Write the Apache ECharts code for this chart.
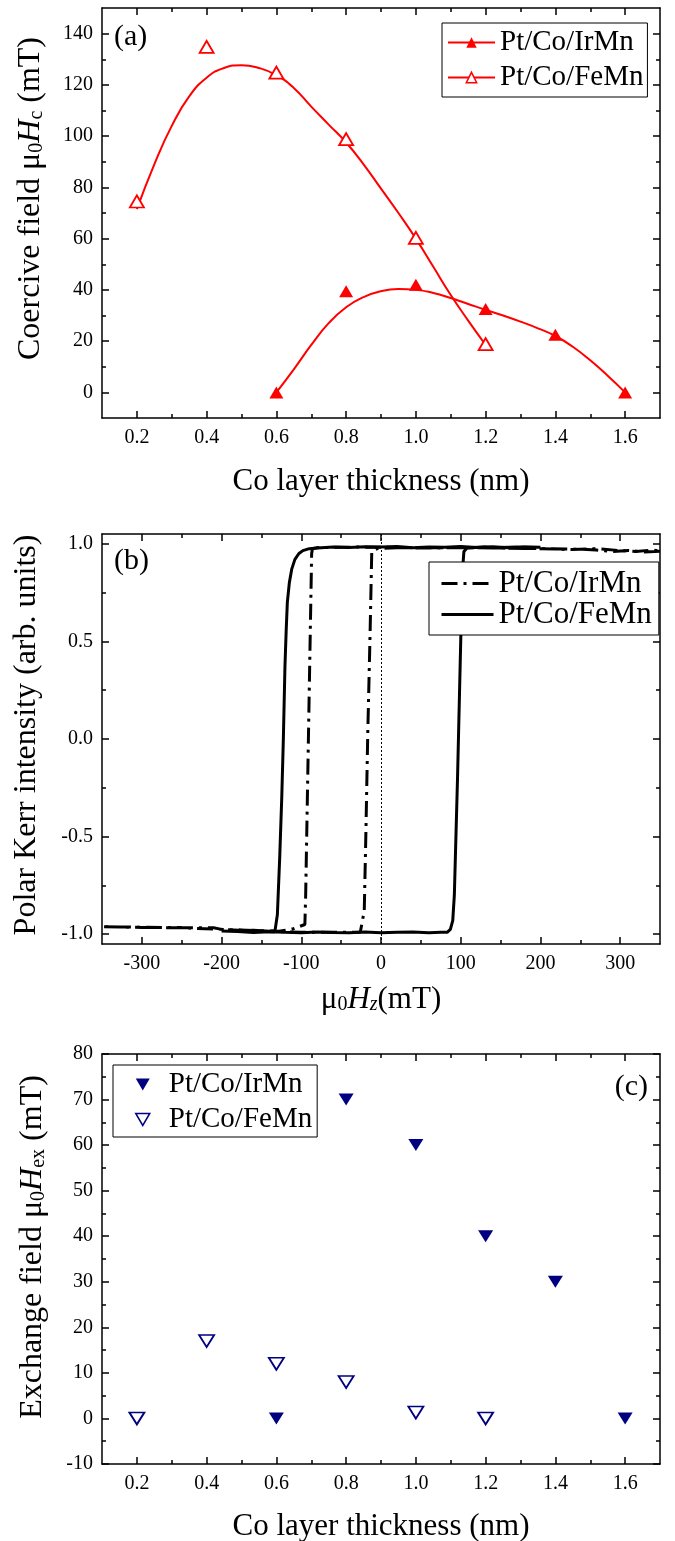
<!DOCTYPE html>
<html><head><meta charset="utf-8">
<script src="https://cdn.jsdelivr.net/npm/echarts@6/dist/echarts.min.js"></script>
<style>html,body{margin:0;padding:0;background:#fff;overflow:hidden}#c{width:675px;height:1541px}</style>
</head><body><div id="c"></div>
<script>
// ---------- Panel (a): coercive field ----------
const thickIrMnA = [0.6, 0.8, 1.0, 1.2, 1.4, 1.6];
const hcIrMn = [0, 39.5, 42, 32.5, 22.5, 0];
const thickFeMnA = [0.2, 0.4, 0.6, 0.8, 1.0, 1.2];
const hcFeMn = [74.5, 134.8, 124.8, 98.8, 60.3, 18.8];
// fitted curves
const fitIrMnX = [0.6, 0.65, 0.7, 0.75, 0.8, 0.85, 0.9, 0.95, 1.0, 1.05, 1.1, 1.15, 1.2, 1.25, 1.3, 1.35, 1.4, 1.45, 1.5, 1.55, 1.6];
const fitIrMnY = [0, 9, 18.5, 27, 33.2, 37.2, 39.5, 40.3, 40, 38.8, 36.8, 34.5, 32.2, 30, 27.6, 25, 22, 17.8, 12.5, 6.5, 0];
const fitFeMnX = [0.2, 0.25, 0.3, 0.35, 0.4, 0.45, 0.5, 0.55, 0.6, 0.65, 0.7, 0.75, 0.8, 0.85, 0.9, 0.95, 1.0, 1.05, 1.1, 1.15, 1.2];
const fitFeMnY = [71.5, 89, 104, 115.5, 122.8, 126.6, 127.7, 126.6, 123.8, 118.8, 111.5, 104.5, 97.5, 89, 79.5, 70, 60, 49, 38, 28, 18.5];

// ---------- Panel (b): polar Kerr loops ----------
const loopFeMnH = [200, 180, 160, 140, 120, 100, 80, 60, 40, 20, 0, -20, -40, -60, -80, -90, -98, -103, -108, -112, -115, -117.5, -119, -120.5, -122.5, -124.5, -127, -130, -133, -140, -160, -180, -200,
  -200, -180, -160, -140, -120, -100, -80, -60, -40, -20, 0, 20, 40, 60, 75, 83, 87, 90, 92, 94, 96, 98, 100, 102, 104, 108, 130, 150, 170, 200];
const loopFeMnM = [0.982, 0.984, 0.979, 0.985, 0.981, 0.986, 0.982, 0.984, 0.98, 0.986, 0.983, 0.985, 0.981, 0.984, 0.978, 0.975, 0.965, 0.95, 0.92, 0.87, 0.8, 0.7, 0.55, 0.37, 0.0, -0.3, -0.6, -0.9, -0.982, -0.985, -0.98, -0.986, -0.983,
  -0.99, -0.986, -0.991, -0.987, -0.99, -0.992, -0.988, -0.991, -0.993, -0.989, -0.992, -0.99, -0.988, -0.992, -0.99, -0.99, -0.975, -0.93, -0.8, -0.5, -0.2, 0.15, 0.5, 0.85, 0.96, 0.978, 0.985, 0.981, 0.984, 0.982];
const loopIrMnH = [350, 330, 310, 290, 270, 250, 200, 150, 100, 50, 0, -30, -60, -80, -86, -87, -88.5, -90, -91.5, -93, -94.5, -95.5, -97, -110, -128, -150, -200, -210, -250, -300, -350,
  -350, -300, -250, -200, -150, -100, -60, -40, -26, -24, -21, -19, -16.6, -13.7, -11.6, -5, 20, 60, 100, 150, 200, 240, 270, 300, 320, 340, 350];
const loopIrMnM = [0.962, 0.958, 0.966, 0.96, 0.968, 0.972, 0.975, 0.978, 0.98, 0.979, 0.982, 0.983, 0.982, 0.98, 0.975, 0.95, 0.6, 0.25, -0.1, -0.45, -0.8, -0.95, -0.958, -0.972, -0.985, -0.982, -0.975, -0.967, -0.966, -0.964, -0.962,
  -0.962, -0.965, -0.967, -0.975, -0.985, -0.99, -0.99, -0.99, -0.99, -0.99, -0.88, -0.49, 0.03, 0.54, 0.96, 0.975, 0.98, 0.978, 0.98, 0.978, 0.975, 0.97, 0.975, 0.965, 0.96, 0.968, 0.962];

// ---------- Panel (c): exchange field ----------
const thickIrMnC = [0.6, 0.8, 1.0, 1.2, 1.4, 1.6];
const hexIrMn = [0, 70, 60, 40, 30, 0];
const thickFeMnC = [0.2, 0.4, 0.6, 0.8, 1.0, 1.2];
const hexFeMn = [0, 17, 12, 8, 1.3, 0];

// ---------- ticks ----------
const thickMajor = [0.2, 0.4, 0.6, 0.8, 1.0, 1.2, 1.4, 1.6];
const thickMinor = [0.3, 0.5, 0.7, 0.9, 1.1, 1.3, 1.5];
const hcMajor = [0, 20, 40, 60, 80, 100, 120, 140];
const hcMinor = [10, 30, 50, 70, 90, 110, 130];
const fieldMajor = [-300, -200, -100, 0, 100, 200, 300];
const fieldMinor = [-250, -150, -50, 50, 150, 250];
const kerrMajor = [-1, -0.5, 0, 0.5, 1];
const kerrMinor = [-0.75, -0.25, 0.25, 0.75];
const hexMajor = [-10, 0, 10, 20, 30, 40, 50, 60, 70, 80];
const hexMinor = [-5, 5, 15, 25, 35, 45, 55, 65, 75];

const FONT = "'Liberation Serif','Times New Roman',serif";
const RED = '#ff0000', NAVY = '#000080';
const INV_TRIANGLE = 'path://M0,0L14,0L7,12Z';
const zip = (a, b) => a.map((v, i) => [v, b[i]]);

function richStyles(base) {
  return {
    sub: {fontSize: 20, lineHeight: 14, verticalAlign: 'bottom', fontFamily: FONT, color: '#000'},
    subi: {fontSize: 20, lineHeight: 14, verticalAlign: 'bottom', fontFamily: FONT, fontStyle: 'italic', color: '#000'},
    it: {fontSize: base, fontFamily: FONT, fontStyle: 'italic', color: '#000'}
  };
}
const axisLineOn = {show: true, onZero: false, lineStyle: {color: '#000', width: 1.5}};
const axisLineOff = {show: false, onZero: false};
function tick(vals, len) {
  return {show: true, inside: true, length: len, customValues: vals, lineStyle: {color: '#000', width: 1.5}};
}
function makeX(gi, min, max, major, minor, fmt, name, nameGap) {
  const base = {type: 'value', gridIndex: gi, min: min, max: max, splitLine: {show: false}};
  return [
    Object.assign({}, base, {position: 'bottom', axisLine: axisLineOn, axisTick: tick(major, 7),
      axisLabel: {show: true, customValues: major, formatter: fmt, fontSize: 20, fontFamily: FONT, color: '#000', margin: 10},
      name: name, nameLocation: 'middle', nameGap: nameGap, nameMoveOverlap: false,
      nameTextStyle: {fontSize: 31, fontFamily: FONT, color: '#000', rich: richStyles(31)}}),
    Object.assign({}, base, {position: 'bottom', axisLine: axisLineOff, axisTick: tick(minor, 4), axisLabel: {show: false}}),
    Object.assign({}, base, {position: 'top', axisLine: axisLineOn, axisTick: tick(major, 7), axisLabel: {show: false}}),
    Object.assign({}, base, {position: 'top', axisLine: axisLineOff, axisTick: tick(minor, 4), axisLabel: {show: false}})
  ];
}
function makeY(gi, min, max, major, minor, fmt, name, nameGap, pad) {
  const base = {type: 'value', gridIndex: gi, min: min, max: max, splitLine: {show: false}};
  return [
    Object.assign({}, base, {position: 'left', axisLine: axisLineOn, axisTick: tick(major, 7),
      axisLabel: {show: true, customValues: major, formatter: fmt, fontSize: 20, fontFamily: FONT, color: '#000', margin: 9},
      name: name, nameLocation: 'middle', nameGap: nameGap, nameRotate: 90, nameMoveOverlap: false,
      nameTextStyle: {fontSize: 32, fontFamily: FONT, color: '#000', padding: pad, rich: richStyles(32)}}),
    Object.assign({}, base, {position: 'left', axisLine: axisLineOff, axisTick: tick(minor, 4), axisLabel: {show: false}}),
    Object.assign({}, base, {position: 'right', axisLine: axisLineOn, axisTick: tick(major, 7), axisLabel: {show: false}}),
    Object.assign({}, base, {position: 'right', axisLine: axisLineOff, axisTick: tick(minor, 4), axisLabel: {show: false}})
  ];
}
const f1 = v => v.toFixed(1);
const f0 = v => String(Math.round(v));

const xAxis = [].concat(
  makeX(0, 0.1, 1.7, thickMajor, thickMinor, f1, 'Co layer thickness (nm)', 48),
  makeX(1, -350, 350, fieldMajor, fieldMinor, f0, 'μ{sub|0}{it|H}{subi|z}(mT)', 40),
  makeX(2, 0.1, 1.7, thickMajor, thickMinor, f1, 'Co layer thickness (nm)', 47)
);
const yAxis = [].concat(
  makeY(0, -10, 150, hcMajor, hcMinor, f0, 'Coercive field μ{sub|0}{it|H}{sub|c} (mT)', 55, [0, 0, 0, 29]),
  makeY(1, -1.05, 1.05, kerrMajor, kerrMinor, f1, 'Polar Kerr intensity (arb. units)', 59, [0, 0, 0, 8]),
  makeY(2, -10, 80, hexMajor, hexMinor, f0, 'Exchange field μ{sub|0}{it|H}{sub|ex} (mT)', 53, [0, 0, 0, 24])
);

const fmtName = n => n.slice(2);
const legendText = size => ({fontFamily: FONT, fontSize: size, color: '#000'});

const option = {
  animation: false,
  backgroundColor: '#fff',
  title: [
    {text: '(a)', left: 114, top: 22, padding: 0, textStyle: {fontFamily: FONT, fontSize: 30, fontWeight: 'normal', color: '#000'}},
    {text: '(b)', left: 114, top: 546, padding: 0, textStyle: {fontFamily: FONT, fontSize: 30, fontWeight: 'normal', color: '#000'}},
    {text: '(c)', right: 27, top: 1072, padding: 0, textStyle: {fontFamily: FONT, fontSize: 30, fontWeight: 'normal', color: '#000'}}
  ],
  grid: [
    {left: 102, top: 8, width: 558, height: 410, outerBoundsMode: 'none'},
    {left: 102, top: 534, width: 558, height: 410, outerBoundsMode: 'none'},
    {left: 102, top: 1054, width: 558, height: 410, outerBoundsMode: 'none'}
  ],
  legend: [
    {orient: 'vertical', left: 442, top: 23, selectedMode: false, formatter: fmtName,
      itemWidth: 47, itemHeight: 13, itemGap: 6, padding: [5, 4, 5, 5],
      borderColor: '#000', borderWidth: 1, backgroundColor: '#fff', textStyle: legendText(29),
      itemStyle: {borderWidth: 1, opacity: 1},
      data: [{name: 'a:Pt/Co/IrMn'}, {name: 'a:Pt/Co/FeMn', itemStyle: {color: '#fff', borderColor: RED, borderWidth: 1.5, opacity: 1}}]},
    {orient: 'vertical', left: 429, top: 562, selectedMode: false, formatter: fmtName,
      itemWidth: 52, itemHeight: 13, itemGap: 0, padding: [6, 7, 5, 11],
      borderColor: '#000', borderWidth: 1, backgroundColor: '#fff', textStyle: legendText(31),
      data: [
        {name: 'b:Pt/Co/IrMn', itemStyle: {opacity: 0, borderWidth: 0}, lineStyle: {color: '#000', width: 3, type: [16, 6, 3, 6]}},
        {name: 'b:Pt/Co/FeMn', itemStyle: {opacity: 0, borderWidth: 0}, lineStyle: {color: '#000', width: 3, type: 'solid'}}
      ]},
    {orient: 'vertical', left: 113, top: 1065, selectedMode: false, formatter: fmtName,
      itemWidth: 14, itemHeight: 12, itemGap: 6, padding: [5, 5, 3, 22],
      icon: INV_TRIANGLE,
      borderColor: '#000', borderWidth: 1, backgroundColor: '#fff',
      textStyle: Object.assign(legendText(29), {padding: [0, 0, 0, 14]}),
      itemStyle: {borderWidth: 1.5, opacity: 1},
      data: [{name: 'c:Pt/Co/IrMn', icon: INV_TRIANGLE},
             {name: 'c:Pt/Co/FeMn', icon: INV_TRIANGLE}]}
  ],
  xAxis: xAxis,
  yAxis: yAxis,
  series: [
    {name: 'a:Pt/Co/IrMn', type: 'line', xAxisIndex: 0, yAxisIndex: 0, data: zip(fitIrMnX, fitIrMnY),
      smooth: true, showSymbol: false, symbol: 'triangle', symbolSize: 11,
      lineStyle: {color: RED, width: 2}, itemStyle: {color: RED, opacity: 1}, z: 2},
    {name: 'a:Pt/Co/FeMn', type: 'line', xAxisIndex: 0, yAxisIndex: 0, data: zip(fitFeMnX, fitFeMnY),
      smooth: true, showSymbol: false, symbol: 'triangle', symbolSize: 11,
      lineStyle: {color: RED, width: 2}, itemStyle: {color: RED, opacity: 1}, z: 2},
    {name: 'a:Pt/Co/IrMn', type: 'scatter', xAxisIndex: 0, yAxisIndex: 0, data: zip(thickIrMnA, hcIrMn),
      symbol: 'triangle', symbolSize: [14, 12], itemStyle: {color: RED, opacity: 1}, z: 3},
    {name: 'a:Pt/Co/FeMn', type: 'scatter', xAxisIndex: 0, yAxisIndex: 0, data: zip(thickFeMnA, hcFeMn),
      symbol: 'triangle', symbolSize: [14, 12], itemStyle: {color: '#fff', borderColor: RED, borderWidth: 1.8, opacity: 1}, z: 3},

    {name: 'b:Pt/Co/IrMn', type: 'line', xAxisIndex: 4, yAxisIndex: 4, data: zip(loopIrMnH, loopIrMnM),
      showSymbol: false, symbol: 'none', lineStyle: {color: '#000', width: 3, type: [16, 6, 3, 6]},
      markLine: {silent: true, symbol: ['none', 'none'], label: {show: false},
        lineStyle: {color: '#000', width: 1, type: [2, 2]}, data: [{xAxis: 0}]}},
    {name: 'b:Pt/Co/FeMn', type: 'line', xAxisIndex: 4, yAxisIndex: 4, data: zip(loopFeMnH, loopFeMnM),
      showSymbol: false, symbol: 'none', lineStyle: {color: '#000', width: 3}},

    {name: 'c:Pt/Co/IrMn', type: 'scatter', xAxisIndex: 8, yAxisIndex: 8, data: zip(thickIrMnC, hexIrMn),
      symbol: 'triangle', symbolRotate: 180, symbolSize: [15, 12], itemStyle: {color: NAVY, opacity: 1}},
    {name: 'c:Pt/Co/FeMn', type: 'scatter', xAxisIndex: 8, yAxisIndex: 8, data: zip(thickFeMnC, hexFeMn),
      symbol: 'triangle', symbolRotate: 180, symbolSize: [15, 12], itemStyle: {color: '#fff', borderColor: NAVY, borderWidth: 1.8, opacity: 1}}
  ]
};
const chart = echarts.init(document.getElementById('c'), null, {renderer: 'canvas', width: 675, height: 1541});
chart.setOption(option);
</script></body></html>
